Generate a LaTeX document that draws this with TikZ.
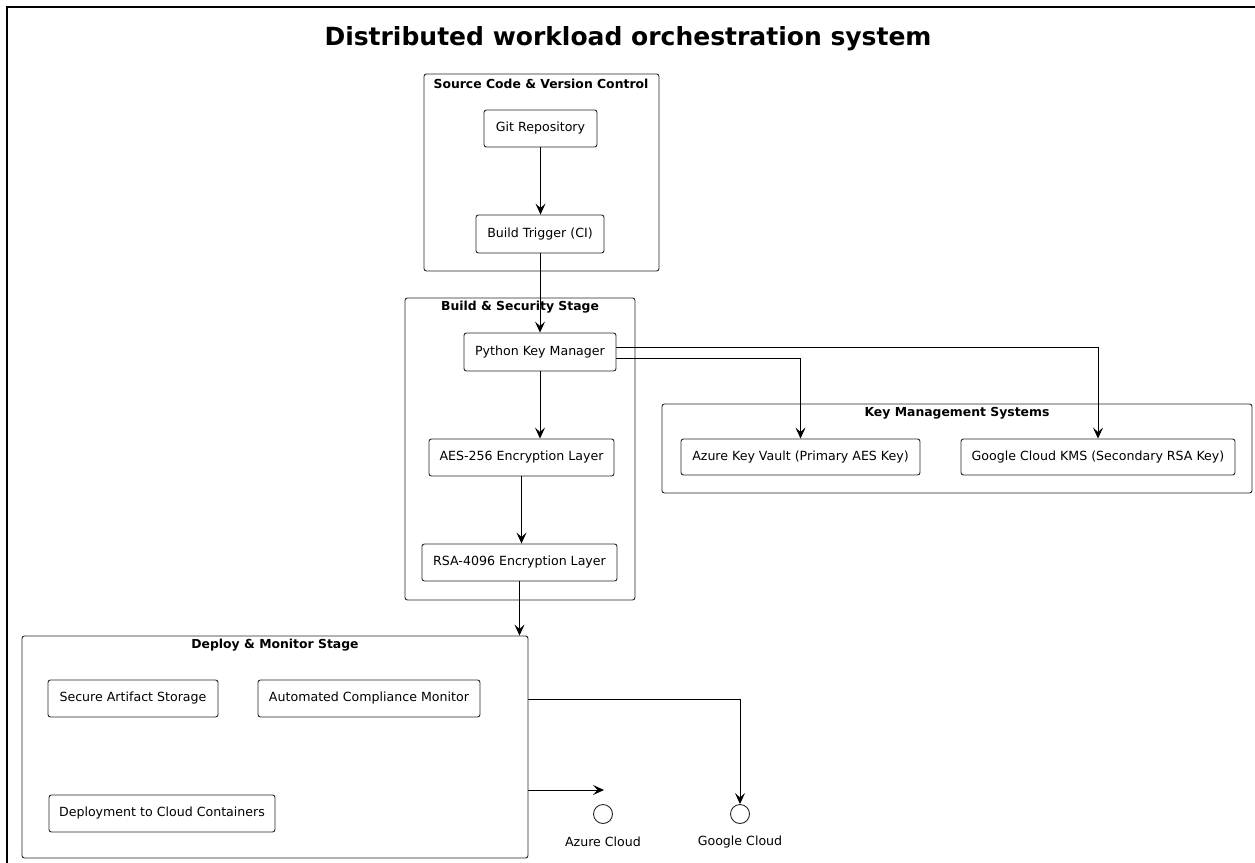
\documentclass[tikz,border=0pt]{standalone}
\usepackage{fontspec}
\setmainfont{DejaVu Sans}
\usetikzlibrary{arrows.meta,positioning}
\tikzset{
  box/.style={draw=black!85, line width=0.9pt, rounded corners=2.5pt, fill=white, inner sep=0pt, font=\fontsize{12.6}{15}\selectfont},
  grp/.style={draw=black!85, line width=0.9pt, rounded corners=2.5pt, inner sep=0pt},
  grptitle/.style={font=\bfseries\fontsize{12.4}{15}\selectfont, inner sep=0pt},
  conn/.style={line width=0.9pt, -{Stealth[length=11pt,width=10pt,inset=4.5pt]}},
  iface/.style={draw=black!85, line width=0.9pt, circle, minimum size=19pt, inner sep=0pt},
  lbl/.style={font=\fontsize{12.6}{15}\selectfont, inner sep=0pt}
}
\begin{document}
\begin{tikzpicture}[x=1pt,y=-1pt]
\useasboundingbox (0,0) rectangle (1255,862);
\fill[white] (0,0) rectangle (1255,862);
% outer frame (top and left visible)
\draw[line width=2pt] (7,870) -- (7,7) -- (1262,7);
% title
\node[font=\bfseries\fontsize{25}{30}\selectfont, inner sep=0pt] (title) at (628,39) {Distributed workload orchestration system};

% groups
\node[grp, minimum width=235pt, minimum height=197pt] (src) at (541.5,172.5) {};
\node[grptitle] (srct) at (541,84) {Source Code \& Version Control};
\node[grp, minimum width=230pt, minimum height=302pt] (bss) at (520,449) {};
\node[grptitle] (bsst) at (520,307) {Build \& Security Stage};
\node[grp, minimum width=590pt, minimum height=89pt] (kms) at (957,448.5) {};
\node[grptitle] (kmst) at (957,413) {Key Management Systems};
\node[grp, minimum width=506pt, minimum height=222pt] (dms) at (275,747) {};
\node[grptitle] (dmst) at (275,645) {Deploy \& Monitor Stage};

% nodes
\node[box, minimum width=113pt, minimum height=37pt] (git) at (540.5,128.5) {Git Repository};
\node[box, minimum width=128pt, minimum height=38pt] (trig) at (540,234) {Build Trigger (CI)};
\node[box, minimum width=152pt, minimum height=38pt] (py) at (540,352) {Python Key Manager};
\node[box, minimum width=185pt, minimum height=37pt] (aes) at (521.5,457.5) {AES-256 Encryption Layer};
\node[box, minimum width=195pt, minimum height=37pt] (rsa) at (519.5,562.5) {RSA-4096 Encryption Layer};
\node[box, minimum width=239pt, minimum height=36pt] (azkv) at (800.5,457) {Azure Key Vault (Primary AES Key)};
\node[box, minimum width=274pt, minimum height=36pt] (gkms) at (1098,457) {Google Cloud KMS (Secondary RSA Key)};
\node[box, minimum width=170pt, minimum height=37pt] (sas) at (133,698.5) {Secure Artifact Storage};
\node[box, minimum width=222pt, minimum height=37pt] (acm) at (369,698.5) {Automated Compliance Monitor};
\node[box, minimum width=226pt, minimum height=37pt] (dep) at (162,813.5) {Deployment to Cloud Containers};

% interfaces
\node[iface] (azc) at (603,814) {};
\node[lbl] (azcl) at (603,842) {Azure Cloud};
\node[iface] (gc) at (740,814) {};
\node[lbl] (gcl) at (740,842) {Google Cloud};
\coordinate (azend) at (604,790);

% connectors
\draw[conn] (git.south) -- (git.south |- trig.north);
\draw[conn] (trig.south) -- (trig.south |- py.north);
\draw[conn] (py.south) -- (py.south |- aes.north);
\draw[conn] (aes.south) -- (aes.south |- rsa.north);
\draw[conn] (rsa.south) -- (rsa.south |- dms.north);
\draw[conn] ([yshift=-6pt]py.east) -| (azkv.north);
\draw[conn] ([yshift=5pt]py.east) -| (gkms.north);
\draw[conn] (dms.east |- 0,699) -| (gc.north);
\draw[conn] (dms.east |- azend) -- (azend);
\end{tikzpicture}
\end{document}
